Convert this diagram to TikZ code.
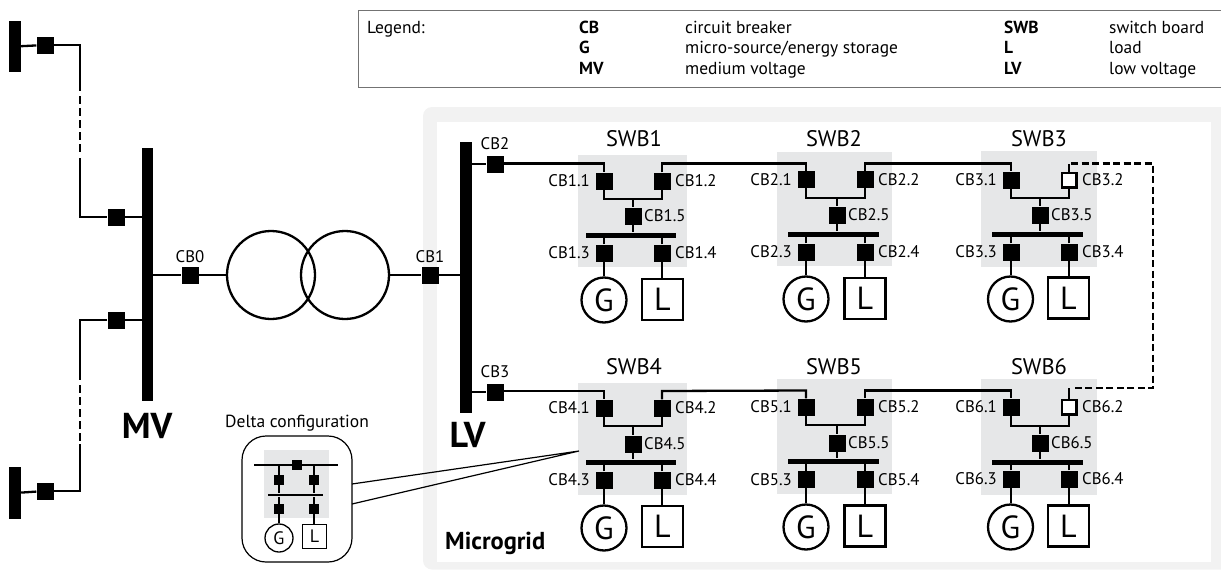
\documentclass[tikz,border=0pt]{standalone}
\usepackage{fontspec}
\setmainfont{PT Sans}
\definecolor{panel}{HTML}{F2F2F2}
\definecolor{swbgrey}{HTML}{E6E7E8}
\tikzset{
  wire/.style={line width=2.3pt,line join=miter,line cap=butt},
  thinwire/.style={line width=1.3pt},
  dashwire/.style={wire,dash pattern=on 7pt off 3.5pt},
  feeddash/.style={wire,dash pattern=on 8pt off 4pt},
  closedcb/.style={rectangle,fill=black,minimum size=17pt,inner sep=0pt},
  opencb/.style={rectangle,draw=black,line width=2.3pt,fill=white,minimum size=14.7pt,inner sep=0pt},
  smallcb/.style={rectangle,fill=black,minimum size=10pt,inner sep=0pt},
  busbar/.style={rectangle,fill=black,inner sep=0pt},
  gen/.style={circle,draw=black,line width=2.3pt,fill=white,minimum size=45pt,inner sep=0pt,font=\fontsize{32}{32}\selectfont},
  loadbox/.style={rectangle,draw=black,line width=2.3pt,fill=white,minimum size=41pt,inner sep=0pt,font=\fontsize{32}{32}\selectfont},
  smallgen/.style={circle,draw=black,line width=1.3pt,fill=white,minimum size=28pt,inner sep=0pt,font=\fontsize{18}{18}\selectfont},
  smallload/.style={rectangle,draw=black,line width=1.3pt,fill=white,minimum size=24.5pt,inner sep=0pt,font=\fontsize{18}{18}\selectfont},
  trafo/.style={circle,draw=black,line width=2.3pt,minimum size=88pt,inner sep=0pt},
  cblabel/.style={inner sep=0pt,font=\fontsize{16.8}{16.8}\selectfont},
  swbtitle/.style={inner sep=0pt,anchor=base,font=\fontsize{22.5}{22.5}\selectfont},
  legendtext/.style={inner sep=0pt,anchor=base west,font=\fontsize{17.4}{17.4}\selectfont},
  legendkey/.style={legendtext,font=\fontsize{17.4}{17.4}\selectfont\bfseries},
  buslabel/.style={inner sep=0pt,anchor=base,font=\fontsize{36}{36}\selectfont\bfseries},
}
\begin{document}
\begin{tikzpicture}[x=1pt,y=-1pt]
\useasboundingbox (0,0) rectangle (1221,570);
\clip (0,0) rectangle (1221,570);

% legend
\node[draw=black!55,line width=1.2pt,rectangle,minimum width=880pt,minimum height=77pt,anchor=north west,inner sep=0pt] (legend) at (358,10) {};
\node[legendtext] (lg) at (367,33) {Legend:};
\node[legendkey] (k1) at (579,33) {CB};
\node[legendkey] (k2) at (579,53) {G};
\node[legendkey] (k3) at (579,74) {MV};
\node[legendtext] (t1) at (685,33) {circuit breaker};
\node[legendtext] (t2) at (685,53) {micro-source/energy storage};
\node[legendtext] (t3) at (685,74) {medium voltage};
\node[legendkey] (k4) at (1004,33) {SWB};
\node[legendkey] (k5) at (1004,53) {L};
\node[legendkey] (k6) at (1004,74) {LV};
\node[legendtext] (t4) at (1109,33) {switch board};
\node[legendtext] (t5) at (1109,53) {load};
\node[legendtext] (t6) at (1109,74) {low voltage};

% microgrid panel
\fill[panel,rounded corners=9pt] (423,107) rectangle (1235,569.5);
\fill[white] (437,122) rectangle (1211,562);
\node[inner sep=0pt,anchor=base west,font=\fontsize{24.5}{24.5}\selectfont\bfseries] (mg) at (445,549) {Microgrid};

% switch boards
\foreach \n/\xL/\yT/\xR/\yB/\xA/\xB/\xM/\xT/\yW/\yC/\yJ/\yF/\yBus/\yD/\xBL/\xBR/\xG/\yG/\xLL/\yLL/\sty in {
 1/578/155/687/267/604/662/633/634/163.5/181/199/216/235/253/586/676/604/300/662.5/299.5/closedcb,
 2/777/152/892/266/806/865/837/834/163.5/179.5/198/215/234/252/788/879/806/299/865/298.5/closedcb,
 3/981/151/1097/267/1011/1069/1040/1039/163.5/180/198/215/234/252/992/1083/1010.5/299/1068.5/298/opencb,
 4/578/383/687/495/604/662/633/634/391/408/426/444/462/480/586/676/604/528/662.5/526.5/closedcb,
 5/777/379/892/494/806/865/837/834/390.5/407/425/443/461/479.5/788/879/806/527/865/526/closedcb,
 6/981/379/1097/495/1011/1069/1040/1039/390.5/407/426/443/462/479/992/1083/1010.5/527/1068.5/526/opencb}
{
  \fill[swbgrey] (\xL,\yT) rectangle (\xR,\yB);
  \node[swbtitle] (s\n title) at (\xT,{\yT<300?146:374.5}) {SWB\n};
  \coordinate (s\n ta) at (\xA,\yW);
  \coordinate (s\n tb) at (\xB,\yW);
  \coordinate (s\n j) at (\xM,\yJ);
  \node[closedcb] (s\n c1) at (\xA,\yC) {};
  \node[\sty] (s\n c2) at (\xB,\yC) {};
  \node[closedcb] (s\n c5) at (\xM,\yF) {};
  \node[closedcb] (s\n c3) at (\xA,\yD) {};
  \node[closedcb] (s\n c4) at (\xB,\yD) {};
  \node[busbar,minimum height=5pt,minimum width={\xBR-\xBL}] (s\n bus) at ({(\xBL+\xBR)/2},\yBus) {};
  \node[gen] (s\n g) at (\xG,\yG) {G};
  \node[loadbox] (s\n l) at (\xLL,\yLL) {L};
  \draw[wire] (s\n c1) |- (s\n j) -| (s\n c2);
  \draw[wire] (s\n j) -- (s\n c5);
  \draw[wire] (s\n c5) -- (s\n c5 |- s\n bus.north);
  \draw[wire] (s\n c3) -- (s\n c3 |- s\n bus.south);
  \draw[wire] (s\n c4) -- (s\n c4 |- s\n bus.south);
  \draw[wire] (s\n c3) -- (s\n c3 |- s\n g.north);
  \draw[wire] (s\n c4) -- (s\n c4 |- s\n l.north);
  \node[cblabel,anchor=base east] (s\n la) at ({\xA-14},{\yC+5.5}) {CB\n.1};
  \node[cblabel,anchor=base west] (s\n lb) at ({\xB+13},{\yC+5.5}) {CB\n.2};
  \node[cblabel,anchor=base west] (s\n le) at ({\xM+11},{\yF+5.5}) {CB\n.5};
  \node[cblabel,anchor=base east] (s\n lc) at ({\xA-14},{\yD+5.5}) {CB\n.3};
  \node[cblabel,anchor=base west] (s\n ld) at ({\xB+13},{\yD+5.5}) {CB\n.4};
}

% main buses
\node[busbar,minimum width=12pt,minimum height=271pt] (lv) at (466,277.5) {};
\node[busbar,minimum width=11.5pt,minimum height=253pt] (mv) at (147.5,274.5) {};
\node[busbar,minimum width=12pt,minimum height=51pt] (busa) at (15,46.5) {};
\node[busbar,minimum width=12pt,minimum height=52pt] (busb) at (15,493) {};
\node[buslabel] (lvt) at (467.5,447) {LV};
\node[buslabel] (mvt) at (147,438) {MV};

% top-level breakers
\node[closedcb] (cb0) at (190,275) {};
\node[closedcb] (cb1) at (430,275) {};
\node[closedcb] (cb2) at (495,164) {};
\node[closedcb] (cb3) at (495,392) {};
\node[closedcb] (cba) at (45,45) {};
\node[closedcb] (cbb) at (45,491) {};
\node[closedcb] (cbc) at (116,217) {};
\node[closedcb] (cbd) at (116,320) {};
\node[cblabel,anchor=base] (l0) at (190,262) {CB0};
\node[cblabel,anchor=base] (l1) at (430,262) {CB1};
\node[cblabel,anchor=base] (l2) at (495,149) {CB2};
\node[cblabel,anchor=base] (l3) at (495,377) {CB3};

% transformer
\node[trafo] (tr1) at (271,275) {};
\node[trafo] (tr2) at (345,275) {};
\draw[wire] (cb0 -| mv.east) -- (cb0);
\draw[wire] (cb0) -- (tr1);
\draw[wire] (tr2) -- (cb1);
\draw[wire] (cb1) -- (cb1 -| lv.west);

% microgrid feeders
\draw[wire] (cb2 -| lv.east) -- (cb2);
\draw[wire] (cb3 -| lv.east) -- (cb3);
\coordinate (w2) at (495,163.5);
\coordinate (w3) at (495,391);
\draw[wire] (w2) -- (s1ta) -- (s1c1);
\draw[wire] (s1c2) -- (s1tb) -- (s2ta) -- (s2c1);
\draw[wire] (s2c2) -- (s2tb) -- (s3ta) -- (s3c1);
\draw[wire] (w3) -- (s4ta) -- (s4c1);
\draw[wire] (s4c2) -- (s4tb) -- (s5ta) -- (s5c1);
\draw[wire] (s5c2) -- (s5tb) -- (s6ta) -- (s6c1);

% open ring
\coordinate (ra) at (1153,163.5);
\coordinate (rb) at (1153,388);
\coordinate (rc) at (1071,163.5);
\coordinate (rd) at (1071,388);
\draw[wire] (s3c2) -- (s3tb);
\draw[wire] (s6c2) -- (s6c2 |- rd);
\draw[dashwire] (rc) -- (ra) -- (rb) -- (rd);

% external feeders
\coordinate (fa) at (80,45);
\coordinate (fb) at (80,91);
\coordinate (fc) at (80,96);
\coordinate (fd) at (80,152);
\coordinate (fe) at (80,158);
\coordinate (ff) at (80,217);
\draw[wire] (busa) -- (cba);
\draw[wire] (cba) -- (fa) -- (fb);
\draw[feeddash] (fc) -- (fd);
\draw[wire] (fe) -- (ff) -- (cbc);
\draw[wire] (cbc) -- (cbc -| mv.west);
\coordinate (ga) at (80,320);
\coordinate (gb) at (80,380);
\coordinate (gc) at (80,385);
\coordinate (gd) at (80,441);
\coordinate (ge) at (80,444);
\coordinate (gf) at (80,491);
\draw[wire] (cbd -| mv.west) -- (cbd);
\draw[wire] (cbd) -- (ga) -- (gb);
\draw[feeddash] (gc) -- (gd);
\draw[wire] (ge) -- (gf) -- (cbb);
\draw[wire] (cbb) -- (busb);

% delta inset
\node[draw=black,line width=1.2pt,rectangle,rounded corners=24pt,fill=white,minimum width=110pt,minimum height=126pt,inner sep=0pt] (dl) at (297,499) {};
\node[inner sep=0pt,anchor=base,font=\fontsize{17.5}{17.5}\selectfont] (dt) at (297,427) {Delta configuration};
\coordinate (tip) at (579,451);
\coordinate (da) at (352,484);
\coordinate (db) at (352,504);
\draw[line width=1.2pt,line join=miter] (da) -- (tip) -- (db);
\fill[swbgrey] (264,450) rectangle (329,518);
\coordinate (dtl) at (254,465);
\coordinate (dtr) at (338,465);
\coordinate (dta) at (279,465);
\coordinate (dtb) at (314,465);
\node[smallcb] (dc0) at (297,465) {};
\node[smallcb] (dc1) at (279,480) {};
\node[smallcb] (dc2) at (314,480) {};
\node[smallcb] (dc3) at (279,509) {};
\node[smallcb] (dc4) at (314,509) {};
\node[busbar,minimum width=55pt,minimum height=2.8pt] (dbus) at (295.5,495) {};
\node[smallgen] (dg) at (279,538) {G};
\node[smallload] (dlo) at (314.5,536.5) {L};
\draw[thinwire] (dtl) -- (dtr);
\draw[thinwire] (dta) -- (dc1);
\draw[thinwire] (dtb) -- (dc2);
\draw[thinwire] (dc1) -- (dc1 |- dbus.north);
\draw[thinwire] (dc2) -- (dc2 |- dbus.north);
\draw[thinwire] (dc3) -- (dc3 |- dbus.south);
\draw[thinwire] (dc4) -- (dc4 |- dbus.south);
\draw[thinwire] (dc3) -- (dc3 |- dg.north);
\draw[thinwire] (dc4) -- (dc4 |- dlo.north);
\end{tikzpicture}
\end{document}
